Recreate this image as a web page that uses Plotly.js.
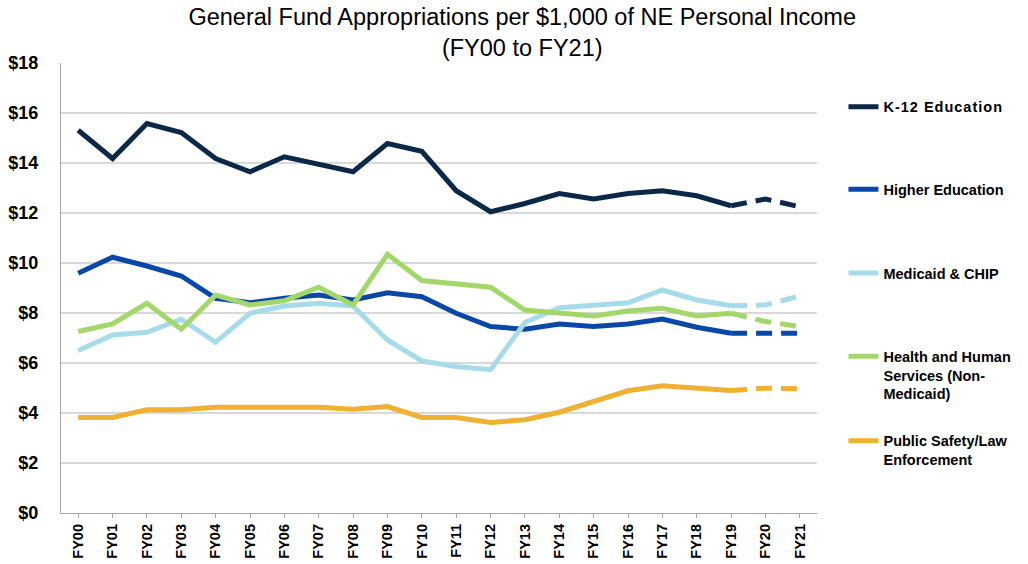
<!DOCTYPE html>
<html>
<head>
<meta charset="utf-8">
<script src="https://cdn.plot.ly/plotly-3.0.1.min.js"></script>
<style>
html,body{margin:0;padding:0;background:#fff;}
#chart{width:1028px;height:564px;}
.legendtext{letter-spacing:1px;}
</style>
</head>
<body>
<div id="chart"></div>
<script>
const years = ["FY00","FY01","FY02","FY03","FY04","FY05","FY06","FY07","FY08","FY09","FY10","FY11","FY12","FY13","FY14","FY15","FY16","FY17","FY18","FY19","FY20","FY21"];
const k12 = [15.31,14.18,15.58,15.22,14.18,13.65,14.25,13.96,13.65,14.78,14.47,12.89,12.05,12.38,12.78,12.56,12.78,12.89,12.69,12.29,12.56,12.25];
const higherEd = [9.59,10.23,9.88,9.48,8.59,8.41,8.59,8.72,8.52,8.81,8.65,7.99,7.46,7.35,7.56,7.46,7.56,7.76,7.43,7.19,7.19,7.19];
const medicaid = [6.50,7.12,7.23,7.75,6.83,7.99,8.28,8.39,8.28,6.92,6.08,5.86,5.73,7.62,8.21,8.32,8.41,8.92,8.52,8.29,8.32,8.68];
const hhs = [7.26,7.56,8.39,7.35,8.72,8.32,8.49,9.03,8.32,10.35,9.30,9.16,9.03,8.12,7.99,7.88,8.08,8.19,7.88,7.99,7.66,7.46];
const safety = [3.82,3.82,4.13,4.13,4.23,4.23,4.23,4.23,4.15,4.26,3.82,3.82,3.62,3.73,4.03,4.46,4.89,5.09,5.02,4.90,4.99,4.97];
const yTickVals = [0,2,4,6,8,10,12,14,16,18];
const yTickText = ["$0","$2","$4","$6","$8","$10","$12","$14","$16","$18"];

const series = [
  {name: "K-12 Education", values: k12, color: "#0B2847"},
  {name: "Higher Education", values: higherEd, color: "#0A48A8"},
  {name: "Medicaid & CHIP", values: medicaid, color: "#A6DCE9"},
  {name: "Health and Human<br>Services (Non-<br>Medicaid)", values: hhs, color: "#A4D76A"},
  {name: "Public Safety/Law<br>Enforcement", values: safety, color: "#F0B032"}
];
const legendNames = ["legend", "legend2", "legend3", "legend4", "legend5"];
const legendY = [0.938, 0.755, 0.569, 0.384, 0.196];
const splitIdx = years.indexOf("FY19");
const traces = [];
series.forEach((s, i) => {
  traces.push({
    type: "scatter", mode: "lines",
    x: years.slice(0, splitIdx + 1), y: s.values.slice(0, splitIdx + 1),
    name: s.name, legend: legendNames[i],
    line: {color: s.color, width: 5, shape: "linear"},
    hoverinfo: "x+y"
  });
  traces.push({
    type: "scatter", mode: "lines",
    x: years.slice(splitIdx), y: s.values.slice(splitIdx),
    name: s.name, legend: legendNames[i], showlegend: false,
    line: {color: s.color, width: 5, dash: "16px,9px"},
    hoverinfo: "x+y"
  });
});

const fontFam = "Liberation Sans, Arial, sans-serif";
const layout = {
  width: 1028, height: 564,
  margin: {l: 61, r: 209, t: 63, b: 51},
  paper_bgcolor: "#ffffff", plot_bgcolor: "#ffffff",
  font: {family: fontFam, color: "#000"},
  title: {
    text: "General Fund Appropriations per $1,000 of NE Personal Income<br>(FY00 to FY21)",
    font: {size: 23.5, color: "#000", family: fontFam},
    x: 0.508, xanchor: "center", y: 0.955, yanchor: "middle"
  },
  xaxis: {
    type: "category", categoryorder: "array", categoryarray: years,
    tickangle: -90, tickfont: {size: 14.5, color: "#000", family: fontFam, weight: "bold"},
    showline: true, linecolor: "#A6A6A6", linewidth: 1.2,
    ticks: "outside", ticklen: 4, tickcolor: "#A6A6A6",
    showgrid: false, zeroline: false, range: [-0.5, 21.5], fixedrange: true
  },
  yaxis: {
    range: [0, 18], tickvals: yTickVals, ticktext: yTickText,
    tickfont: {size: 18, color: "#000", family: fontFam, weight: "bold"},
    showline: true, linecolor: "#A6A6A6", linewidth: 1.2,
    showgrid: true, gridcolor: "#D9D9D9", gridwidth: 1.2,
    zeroline: false, ticks: "", ticklabelstandoff: 18, fixedrange: true
  },
  showlegend: true
};
const legendFont = {size: 14.5, color: "#000", family: fontFam, weight: "bold"};
legendNames.forEach((ln, i) => {
  layout[ln] = {
    x: 1.035, xanchor: "left", y: legendY[i], yanchor: "top",
    font: legendFont, valign: "top", itemwidth: 30,
    bgcolor: "rgba(0,0,0,0)"
  };
});
Plotly.newPlot("chart", traces, layout, {displayModeBar: false, staticPlot: true});
</script>
</body>
</html>
